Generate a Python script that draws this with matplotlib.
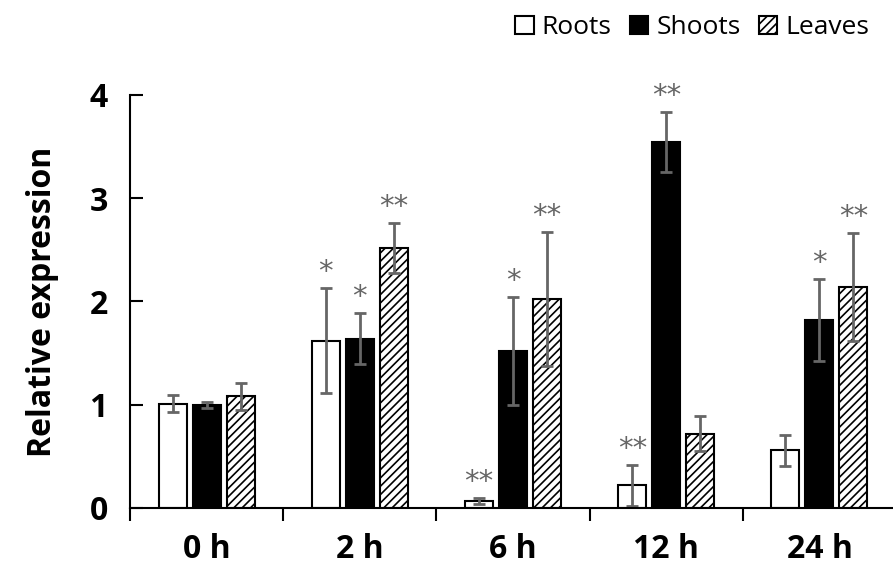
import numpy as np
import matplotlib
matplotlib.use('Agg')
from matplotlib import pyplot as plt
from matplotlib.patches import Patch

plt.rcParams['font.family'] = ['Open Sans', 'DejaVu Sans']
plt.rcParams['hatch.linewidth'] = 1.2

times = ['0 h', '2 h', '6 h', '12 h', '24 h']
series = ['Roots', 'Shoots', 'Leaves']

roots = [1.01, 1.62, 0.07, 0.22, 0.56]
roots_err = [0.08, 0.51, 0.03, 0.20, 0.15]
shoots = [1.00, 1.64, 1.52, 3.54, 1.82]
shoots_err = [0.03, 0.25, 0.52, 0.29, 0.40]
leaves = [1.08, 2.52, 2.02, 0.72, 2.14]
leaves_err = [0.13, 0.24, 0.65, 0.17, 0.52]

roots_sig = ['', '*', '**', '**', '']
shoots_sig = ['', '*', '*', '**', '*']
leaves_sig = ['', '**', '**', '', '**']

fig = plt.figure(figsize=(8.93, 5.65), dpi=100)
ax = fig.add_axes([0.1456, 0.101, 0.8544, 0.731])

x = np.arange(len(times))
w = 0.183
step = 0.222
errgray = '#666666'
styles = [dict(facecolor='white', hatch=None),
          dict(facecolor='black', hatch=None),
          dict(facecolor='white', hatch='////')]
data = [(roots, roots_err, roots_sig), (shoots, shoots_err, shoots_sig),
        (leaves, leaves_err, leaves_sig)]

for k, (vals, errs, sig) in enumerate(data):
    xs = x + (k - 1) * step
    ax.bar(xs, vals, w, edgecolor='black', linewidth=1.5, **styles[k])
    ax.errorbar(xs, vals, yerr=errs, fmt='none', ecolor=errgray,
                elinewidth=2, capsize=4, capthick=2)
    for xi, v, e, s in zip(xs, vals, errs, sig):
        if s:
            ax.text(xi, v + e + 0.02, s, ha='center', va='bottom',
                    fontsize=21, color=errgray, family='DejaVu Sans')

ax.set_xlim(-0.5, 4.48)
ax.set_ylim(0, 4)
ax.set_yticks([0, 1, 2, 3, 4])
ax.set_xticks(x)
ax.set_xticklabels(times, fontsize=23, fontweight='bold')
ax.tick_params(axis='x', length=0, pad=18)
ax.set_xticks(np.arange(-0.5, 4.0, 1.0), minor=True)
ax.tick_params(axis='x', which='minor', length=9, width=1.5, direction='out')
ax.tick_params(axis='y', length=9, width=1.5, direction='in', labelsize=23, pad=16)
for lab in ax.get_yticklabels():
    lab.set_fontweight('bold')
ax.set_ylabel('Relative expression', fontsize=23, fontweight='bold', labelpad=22)

for sp in ['top', 'right']:
    ax.spines[sp].set_visible(False)
ax.spines['left'].set_linewidth(1.5)
ax.spines['bottom'].set_linewidth(1.5)

handles = [Patch(edgecolor='black', linewidth=1.5, **styles[k], label=series[k])
           for k in range(3)]
fig.legend(handles=handles, loc='upper right', bbox_to_anchor=(1.0, 1.015),
           ncol=3, frameon=False, fontsize=19, handlelength=0.7, handleheight=0.7,
           handletextpad=0.3, columnspacing=0.7)

plt.savefig('out.png', dpi=100)
